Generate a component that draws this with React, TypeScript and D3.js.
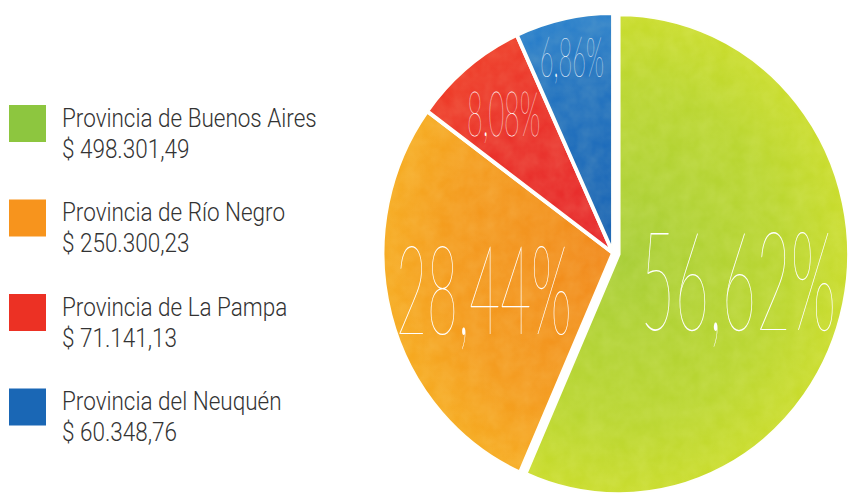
import React from "react";
import * as d3 from "d3";

const provinces = [
  "Provincia de Buenos Aires",
  "Provincia de Río Negro",
  "Provincia de La Pampa",
  "Provincia del Neuquén",
];
const amounts = [498301.49, 250300.23, 71141.13, 60348.76];
const amountLabels = ["$ 498.301,49", "$ 250.300,23", "$ 71.141,13", "$ 60.348,76"];
const percentLabels = ["56,62%", "28,44%", "8,08%", "6,86%"];

// styles
const legendColors = ["#8dc63f", "#f7941d", "#ec3124", "#1a67b5"];
const innerColors = ["#a8ce38", "#f1881c", "#e6262b", "#1560b2"];
const outerColors = ["#c9dc2c", "#f6aa20", "#ee3a27", "#2a80cc"];
const labelRadius = [0.53, 0.58, 0.75, 0.835];
const labelSize = [138, 124, 63, 55];
const explode = [6, 0, 0, 0];

const W = 849;
const H = 494;
const cx = 613;
const cy = 253;
const R = 240;
const SX = 0.96;

export default function App() {
  const pie = d3.pie<number>().sort(null).value((d) => d);
  const arcs = pie(amounts);
  const arc = d3.arc<d3.PieArcDatum<number>>().innerRadius(0).outerRadius(R);

  return (
    <svg
      width={W}
      height={H}
      style={{ position: "absolute", left: 0, top: 0, display: "block", background: "#fff" }}
    >
      <defs>
        {arcs.map((a, i) => (
          <radialGradient key={i} id={`g${i}`} cx={0} cy={0} r={R} gradientUnits="userSpaceOnUse">
            <stop offset="0%" stopColor={innerColors[i]} />
            <stop offset="70%" stopColor={d3.interpolateRgb(innerColors[i], outerColors[i])(0.55)} />
            <stop offset="100%" stopColor={outerColors[i]} />
          </radialGradient>
        ))}
        <filter id="grain" x="0" y="0" width="100%" height="100%">
          <feTurbulence type="fractalNoise" baseFrequency="0.06" numOctaves={3} seed={4} result="n" />
          <feColorMatrix
            in="n"
            type="matrix"
            values="0 0 0 0 1  0 0 0 0 1  0 0 0 0 0.6  0 0 0 0.35 -0.05"
            result="m"
          />
          <feComposite in="m" in2="SourceGraphic" operator="in" />
        </filter>
      </defs>

      {/* legend */}
      <g>
        {provinces.map((p, i) => {
          const y0 = 105 + i * 94.5;
          return (
            <g key={p}>
              <rect x={9} y={y0} width={37} height={37} fill={legendColors[i]} />
              <g transform={`translate(62,0) scale(0.9,1)`}>
                <text
                  x={0}
                  y={y0 + 22}
                  fontFamily="Roboto, sans-serif"
                  fontWeight={300}
                  fontSize={25}
                  fill="#333"
                >
                  {p}
                </text>
                <text
                  x={0}
                  y={y0 + 53}
                  fontFamily="Roboto, sans-serif"
                  fontWeight={300}
                  fontSize={25}
                  fill="#333"
                >
                  {amountLabels[i]}
                </text>
              </g>
            </g>
          );
        })}
      </g>

      {/* pie */}
      <g transform={`translate(${cx},${cy}) scale(${SX},1)`}>
        {arcs.map((a, i) => {
          const mid = (a.startAngle + a.endAngle) / 2;
          const dx = Math.sin(mid) * explode[i];
          const dy = -Math.cos(mid) * explode[i];
          return (
            <g key={i} transform={`translate(${dx},${dy})`}>
              <path
                d={arc(a) || ""}
                fill={`url(#g${i})`}
                stroke="#fff"
                strokeWidth={4}
                strokeLinejoin="round"
              />
              <path d={arc(a) || ""} fill="#fff" filter="url(#grain)" opacity={0.5} />
            </g>
          );
        })}
      </g>
      <g transform={`translate(${cx},${cy})`}>
        {arcs.map((a, i) => {
          const mid = (a.startAngle + a.endAngle) / 2;
          const r = R * labelRadius[i] + explode[i];
          const x = Math.sin(mid) * r * SX;
          const y = -Math.cos(mid) * r;
          const fs = labelSize[i];
          return (
            <g key={`l${i}`} transform={`translate(${x},${y + fs * 0.36}) scale(0.43,1)`}>
              <text
                x={0}
                y={0}
                textAnchor="middle"
                fontFamily="Lato, 'Open Sans', sans-serif"
                fontWeight={200}
                fontSize={fs}
                fill="#fff"
              >
                {percentLabels[i]}
              </text>
            </g>
          );
        })}
      </g>
    </svg>
  );
}
